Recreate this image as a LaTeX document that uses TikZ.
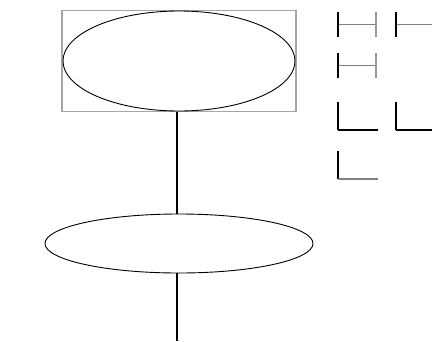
\documentclass[tikz,border=0pt]{standalone}
\usetikzlibrary{shapes.geometric}
\tikzset{
  oval/.style={ellipse,draw,line width=0.9pt,inner sep=0pt},
  frame/.style={rectangle,draw=gray!70,line width=1.2pt,inner sep=0pt},
  wire/.style={line width=1.7pt},
  hbar/.style={line width=2pt},
}
\begin{document}
\begin{tikzpicture}[x=1pt,y=-1pt]
\useasboundingbox (0,0) rectangle (432,341);

\node (box) [frame,minimum width=234pt,minimum height=101pt] at (179,61) {};
\node (top) [oval,minimum width=232pt,minimum height=100pt] at (179,61) {};
\node (low) [oval,minimum width=268pt,minimum height=59pt] at (179,243.5) {};
\coordinate (end) at (177,341);

\draw[wire] (box.south -| 177,0) -- (low.north -| 177,0);
\draw[wire] (low.south -| 177,0) -- (end);

% H marks
\foreach \x/\y in {338/12, 396/12, 338/53} {
  \draw[gray,line width=0.8pt] (\x,\y+12.5) -- (\x+38,\y+12.5);
  \draw[hbar] (\x,\y) -- (\x,\y+25);
  \draw[hbar,gray!80] (\x+38,\y) -- (\x+38,\y+25);
}
% L marks
\foreach \x/\y/\c in {338/102/black, 396/102/black, 338/151/gray} {
  \draw[hbar] (\x,\y) -- (\x,\y+28);
  \draw[\c,line width=1.3pt] (\x,\y+28) -- (\x+40,\y+28);
}
\end{tikzpicture}
\end{document}
